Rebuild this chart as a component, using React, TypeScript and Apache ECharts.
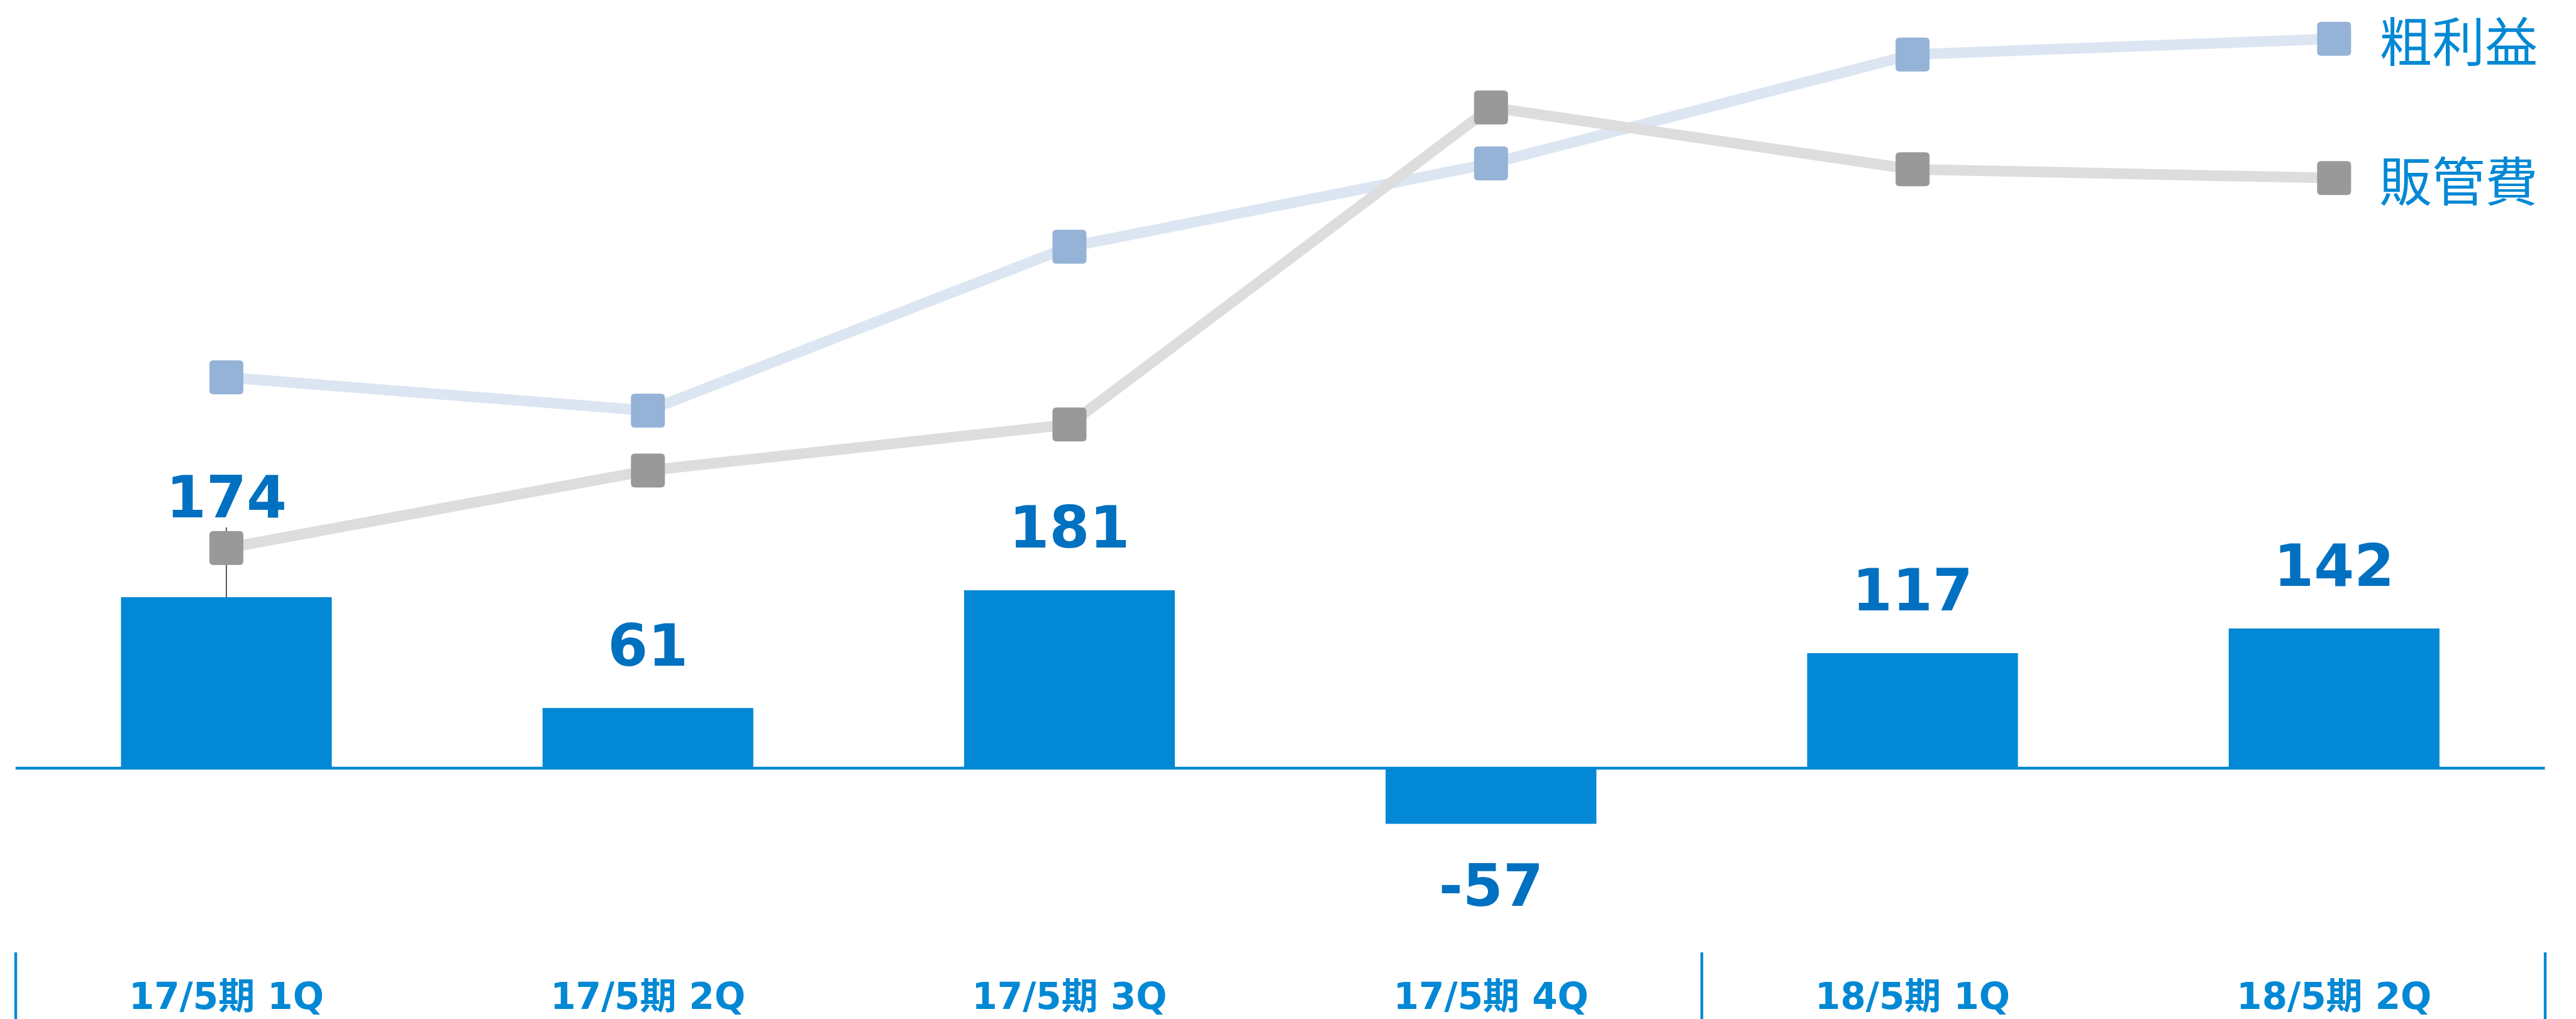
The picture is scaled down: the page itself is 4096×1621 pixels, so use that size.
import React, { useEffect, useRef } from "react";
import * as echarts from "echarts";

const categories = ["17/5期 1Q", "17/5期 2Q", "17/5期 3Q", "17/5期 4Q", "18/5期 1Q", "18/5期 2Q"];
const operatingProfit = [174, 61, 181, -57, 117, 142];
const grossProfit = [1398, 1364, 1531, 1616, 1727, 1743];
const sgaExpenses = [1224, 1303, 1350, 1673, 1610, 1601];
const seriesNames = ["粗利益", "販管費"];

const BLUE = "#0288d4";
const LABEL_BLUE = "#0070c0";
const MARKER = "path://M12,0H88Q100,0,100,12V88Q100,100,88,100H12Q0,100,0,88V12Q0,0,12,0Z";

export default function App() {
  const ref = useRef<HTMLDivElement>(null);
  useEffect(() => {
    document.body.style.margin = "0";
    if (!ref.current) return;
    const chart = echarts.init(ref.current, null, { renderer: "svg" });
    const barData = operatingProfit.map((v, i) => {
      const item: any = { value: v };
      if (v < 0) item.label = { position: "bottom" };
      if (i === 0) item.labelLine = { show: true, lineStyle: { color: "#000", width: 1.3 } };
      return item;
    });
    const endLabel = {
      show: true,
      formatter: "{a}",
      distance: 72,
      fontSize: 84,
      color: BLUE,
      fontFamily: "'Noto Sans CJK JP', sans-serif",
    };
    chart.setOption({
      animation: false,
      backgroundColor: "#fff",
      grid: { left: 24.8, right: 49.5, top: 0.8, bottom: 106, outerBoundsMode: "none" },
      xAxis: {
        type: "category",
        data: categories,
        axisLine: { show: false, onZero: false },
        axisTick: {
          show: true,
          interval: (i: number) => i === 0 || i === 4,
          length: 106,
          lineStyle: { color: BLUE, width: 4.4 },
        },
        axisLabel: {
          interval: 0,
          margin: 41,
          fontSize: 58,
          fontWeight: "bold",
          color: BLUE,
          fontFamily: "'DejaVu Sans', 'Noto Sans CJK JP', sans-serif",
        },
        splitLine: { show: false },
      },
      yAxis: [
        { type: "value", min: -188, max: 782, show: false },
        { type: "value", min: 812, max: 1782, show: false },
      ],
      series: [
        {
          type: "bar",
          name: "営業利益",
          data: barData,
          barWidth: "50%",
          itemStyle: { color: BLUE },
          label: {
            show: true,
            position: "top",
            distance: 52,
            fontSize: 92,
            lineHeight: 94,
            fontWeight: "bold",
            color: LABEL_BLUE,
            fontFamily: "'DejaVu Sans', sans-serif",
          },
          labelLayout: (p: any) => (p.dataIndex === 0 ? { dy: -59 } : {}),
          markLine: {
            silent: true,
            symbol: ["none", "none"],
            label: { show: false },
            lineStyle: { color: BLUE, width: 4.4, type: "solid" },
            data: [{ yAxis: 0 }],
          },
        },
        {
          type: "line",
          name: seriesNames[0],
          yAxisIndex: 1,
          data: grossProfit,
          symbol: MARKER,
          symbolSize: 54,
          itemStyle: { color: "#95b3d7" },
          lineStyle: { color: "#dce6f2", width: 17 },
          endLabel,
        },
        {
          type: "line",
          name: seriesNames[1],
          yAxisIndex: 1,
          data: sgaExpenses,
          symbol: MARKER,
          symbolSize: 54,
          itemStyle: { color: "#999999" },
          lineStyle: { color: "#dddddd", width: 17 },
          endLabel,
        },
      ],
    });
    return () => chart.dispose();
  }, []);
  return <div ref={ref} style={{ width: 4096, height: 1621 }} />;
}
